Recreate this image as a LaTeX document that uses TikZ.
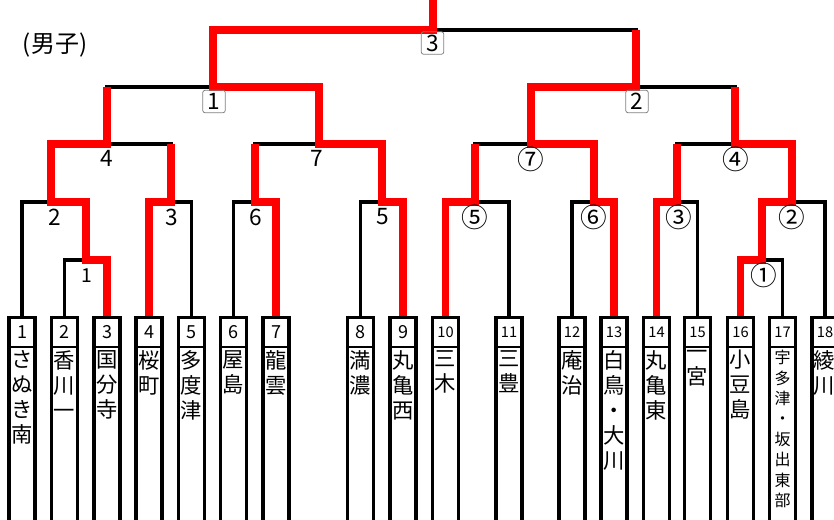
\documentclass[tikz,border=0pt]{standalone}
\usepackage{fontspec}
\setmainfont{Noto Sans CJK JP}
\begin{document}
\begin{tikzpicture}[x=0.75pt,y=0.75pt,yscale=-1,xscale=1,
  team/.style={draw, line width=2.5pt, anchor=north, minimum width=19.5pt, minimum height=170pt, inner sep=0pt,
    path picture={\draw[line width=1.2pt] ([yshift=-22pt]path picture bounding box.north west) -- ([yshift=-22pt]path picture bounding box.north east);}},
  num/.style={inner sep=0pt, font=\fontsize{13.5}{16}\selectfont},
  numsm/.style={inner sep=0pt, font=\fontsize{11}{13}\selectfont},
  school/.style={anchor=north, align=center, inner sep=0pt, font=\fontsize{16}{18.75}\selectfont},
  schoolsm/.style={school, font=\fontsize{12}{15.3}\selectfont},
  bracket/.style={line width=2.5pt},
  win/.style={draw=red, line width=5.5pt},
  gamenum/.style={inner sep=0pt, font=\fontsize{17}{20}\selectfont},
  gamenumsm/.style={inner sep=0pt, font=\fontsize{14.5}{17}\selectfont},
  circnum/.style={inner sep=0pt, font=\fontsize{20}{22}\selectfont},
  boxnum/.style={draw=gray, line width=0.6pt, rounded corners=2pt, minimum size=17pt, inner sep=0pt, font=\fontsize{17}{19}\selectfont}
]
\useasboundingbox (0,0) rectangle (834,519);
\clip (0,0) rectangle (834,519);

%Title
\node[inner sep=0pt, font=\fontsize{18}{20}\selectfont] (title) at (55,45) {(男子)};

%Team boxes
\node[team] (t1) at (22,316) {};
\node[team] (t2) at (64.5,316) {};
\node[team] (t3) at (107,316) {};
\node[team] (t4) at (149,316) {};
\node[team] (t5) at (191.5,316) {};
\node[team] (t6) at (233.5,316) {};
\node[team] (t7) at (276,316) {};
\node[team] (t8) at (360.5,316) {};
\node[team] (t9) at (403,316) {};
\node[team] (t10) at (445.5,316) {};
\node[team] (t11) at (509,316) {};
\node[team] (t12) at (572,316) {};
\node[team] (t13) at (614,316) {};
\node[team] (t14) at (656.5,316) {};
\node[team] (t15) at (697.5,316) {};
\node[team] (t16) at (740.5,316) {};
\node[team] (t17) at (782.5,316) {};
\node[team] (t18) at (825,316) {};

%Box numbers
\node[num] (n1) at (22,332) {1};
\node[num] (n2) at (64.5,332) {2};
\node[num] (n3) at (107,332) {3};
\node[num] (n4) at (149,332) {4};
\node[num] (n5) at (191.5,332) {5};
\node[num] (n6) at (233.5,332) {6};
\node[num] (n7) at (276,332) {7};
\node[num] (n8) at (360.5,332) {8};
\node[num] (n9) at (403,332) {9};
\node[numsm] (n10) at (445.5,332) {10};
\node[numsm] (n11) at (509,332) {11};
\node[numsm] (n12) at (572,332) {12};
\node[numsm] (n13) at (614,332) {13};
\node[numsm] (n14) at (656.5,332) {14};
\node[numsm] (n15) at (697.5,332) {15};
\node[numsm] (n16) at (740.5,332) {16};
\node[numsm] (n17) at (782.5,332) {17};
\node[numsm] (n18) at (825,332) {18};

%School names
\node[school] (s1) at (22,350) {さ\\ぬ\\き\\南};
\node[school] (s2) at (64.5,350) {香\\川\\一};
\node[school] (s3) at (107,350) {国\\分\\寺};
\node[school] (s4) at (149,350) {桜\\町};
\node[school] (s5) at (191.5,350) {多\\度\\津};
\node[school] (s6) at (233.5,350) {屋\\島};
\node[school] (s7) at (276,350) {龍\\雲};
\node[school] (s8) at (360.5,350) {満\\濃};
\node[school] (s9) at (403,350) {丸\\亀\\西};
\node[school] (s10) at (445.5,350) {三\\木};
\node[school] (s11) at (509,350) {三\\豊};
\node[school] (s12) at (572,350) {庵\\治};
\node[school] (s13) at (614,350) {白\\鳥\\・\\大\\川};
\node[school] (s14) at (656.5,350) {丸\\亀\\東};
\node[school] (s15) at (697.5,350) {一\\宮};
\node[school] (s16) at (740.5,350) {小\\豆\\島};
\node[schoolsm] (s17) at (782.5,350) {宇\\多\\津\\・\\坂\\出\\東\\部};
\node[school] (s18) at (824,350) {綾\\川};

%Match points
\coordinate (g1) at (86,260);
\coordinate (g2) at (51,202);
\coordinate (g3) at (171,202);
\coordinate (g6) at (255,202);
\coordinate (g5) at (382,202);
\coordinate (g4) at (107,144);
\coordinate (g7) at (319,144);
\coordinate (c5) at (475,202);
\coordinate (c6) at (594,202);
\coordinate (c3) at (677,202);
\coordinate (c1) at (762,260);
\coordinate (c2) at (792,202);
\coordinate (c7) at (531,144);
\coordinate (c4) at (735,144);
\coordinate (k1) at (213,87);
\coordinate (k2) at (636,87);
\coordinate (k3) at (433,30);
\coordinate (top) at (433,-5);

%Bracket lines
\draw[bracket] (t2.north) |- (g1) -| (t3.north);
\draw[bracket] (t1.north) |- (g2) -| (g1);
\draw[bracket] (t4.north) |- (g3) -| (t5.north);
\draw[bracket] (t6.north) |- (g6) -| (t7.north);
\draw[bracket] (t8.north) |- (g5) -| (t9.north);
\draw[bracket] (g2) |- (g4) -| (g3);
\draw[bracket] (g6) |- (g7) -| (g5);
\draw[bracket] (g4) |- (k1) -| (g7);
\draw[bracket] (t10.north) |- (c5) -| (t11.north);
\draw[bracket] (t12.north) |- (c6) -| (t13.north);
\draw[bracket] (t14.north) |- (c3) -| (t15.north);
\draw[bracket] (t16.north) |- (c1) -| (t17.north);
\draw[bracket] (c1) |- (c2) -| (t18.north);
\draw[bracket] (c5) |- (c7) -| (c6);
\draw[bracket] (c3) |- (c4) -| (c2);
\draw[bracket] (c7) |- (k2) -| (c4);
\draw[bracket] (k1) |- (k3) -| (k2);

%Winners
\draw[win] (t3.north) |- (g1) |- (g2) |- (g4) -- (g4 |- k1);
\draw[win] (t4.north) |- (g3) -- (g3 |- g4);
\draw[win] (t7.north) |- (g6) -- (g6 |- g7);
\draw[win] (t9.north) |- (g5) |- (g7) |- (k1) |- (k3) -- (top);
\draw[win] (t10.north) |- (c5) -- (c5 |- c7);
\draw[win] (t13.north) |- (c6) |- (c7) |- (k2) -- (k2 |- k3);
\draw[win] (t14.north) |- (c3) -- (c3 |- c4);
\draw[win] (t16.north) |- (c1) |- (c2) |- (c4) -- (c4 |- k2);

%Game numbers
\node[gamenumsm] (lg1) at (87,276) {1};
\node[gamenum] (lg2) at (55,217) {2};
\node[gamenum] (lg3) at (171.5,217) {3};
\node[gamenum] (lg4) at (107,158) {4};
\node[gamenum] (lg5) at (383,217) {5};
\node[gamenum] (lg6) at (256,217) {6};
\node[gamenum] (lg7) at (316.5,158) {7};
\node[circnum] (lc1) at (764,275) {①};
\node[circnum] (lc2) at (792,217) {②};
\node[circnum] (lc3) at (679,217) {③};
\node[circnum] (lc4) at (735.5,159) {④};
\node[circnum] (lc5) at (475,217) {⑤};
\node[circnum] (lc6) at (594,217) {⑥};
\node[circnum] (lc7) at (531,159) {⑦};
\node[boxnum] (lk1) at (214,101.5) {1};
\node[boxnum] (lk2) at (637,101.5) {2};
\node[boxnum] (lk3) at (432.5,43) {3};

\end{tikzpicture}
\end{document}
